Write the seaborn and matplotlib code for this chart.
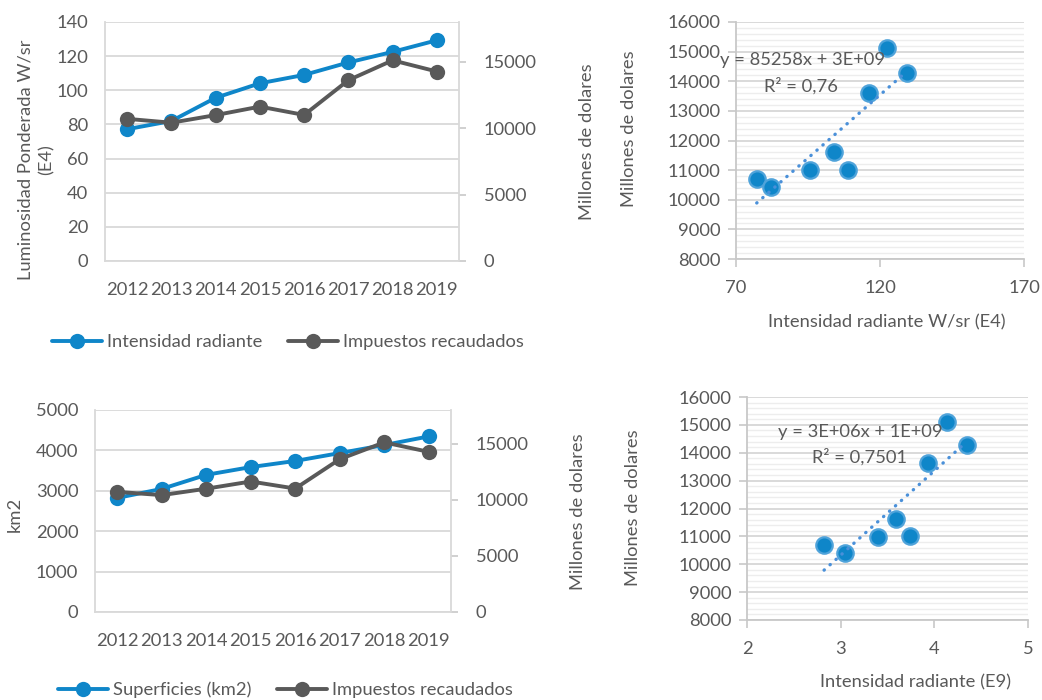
import numpy as np
import pandas as pd
import matplotlib
matplotlib.use("Agg")
import matplotlib.pyplot as plt
import seaborn as sns
from matplotlib.ticker import MultipleLocator, FixedLocator

# ---- data -------------------------------------------------------------
anios = [2012, 2013, 2014, 2015, 2016, 2017, 2018, 2019]
intensidad_e4 = [77.2, 82.0, 95.6, 104.1, 109.0, 116.3, 122.5, 129.3]
impuestos = [10707, 10415, 10988, 11628, 11000, 13617, 15113, 14270]
superficie_km2 = [2823, 3047, 3395, 3587, 3739, 3934, 4133, 4346]
intensidad_e9 = [2.823, 3.047, 3.395, 3.587, 3.739, 3.934, 4.133, 4.346]

ecuacion_sup = ["y = 85258x + 3E+09", "R² = 0,76"]
ecuacion_inf = ["y = 3E+06x + 1E+09", "R² = 0,7501"]

# ---- style ------------------------------------------------------------
sns.set_theme(style="white")
plt.rcParams["font.family"] = ["Lato", "DejaVu Sans"]
FS = 13.2
TXT = "#595959"
BLUE = "#0F86C9"
DARK = "#595959"
GRID = "#D9D9D9"
MINOR = "#EDEDED"
AXIS = "#C8C8C8"
TREND = "#4A90D9"
plt.rcParams.update({
    "text.color": TXT, "axes.labelcolor": TXT,
    "xtick.color": TXT, "ytick.color": TXT,
    "font.size": FS, "axes.labelsize": FS,
    "xtick.labelsize": FS, "ytick.labelsize": FS,
})

W, H = 1042, 700
fig = plt.figure(figsize=(W / 100, H / 100), dpi=100)


def box(l, t, r, b):
    return [l / W, 1 - b / H, (r - l) / W, (b - t) / H]


def frac(ax, px, py):
    x0, y0, w, h = ax.get_position().bounds
    return ((px / W - x0) / w, ((1 - py / H) - y0) / h)


def lineas(rect, serie, etiqueta, ylim, ystep, ylabel, ylab_px, rlab_px, leg_px):
    ax = fig.add_axes(box(*rect))
    ax2 = ax.twinx()
    sns.lineplot(x=anios, y=serie, ax=ax, color=BLUE, lw=2.8, marker="o",
                 markersize=11, markeredgecolor=BLUE, markeredgewidth=0,
                 label=etiqueta, legend=False)
    sns.lineplot(x=anios, y=impuestos, ax=ax2, color=DARK, lw=2.8, marker="o",
                 markersize=11, markeredgecolor=DARK, markeredgewidth=0,
                 label="Impuestos recaudados", legend=False)

    ax.set_xlim(anios[0] - 0.5, anios[-1] + 0.5)
    ax.set_xticks(anios)
    ax.set_xticklabels([str(a) for a in anios])
    ax.set_ylim(*ylim)
    ax.yaxis.set_major_locator(MultipleLocator(ystep))
    ax.yaxis.grid(True, color=GRID, lw=1.3)
    ax.set_axisbelow(True)
    ax.tick_params(axis="both", length=0)
    ax.tick_params(axis="y", pad=12)
    ax.tick_params(axis="x", pad=15)
    for s in ("top", "right"):
        ax.spines[s].set_visible(False)
    for s in ("left", "bottom"):
        ax.spines[s].set_color(GRID)
        ax.spines[s].set_linewidth(1.3)

    ax2.set_ylim(0, 18000)
    ax2.yaxis.set_major_locator(FixedLocator([0, 5000, 10000, 15000]))
    ax2.tick_params(axis="y", length=5, width=1.2, color=AXIS, pad=13)
    for s in ("top", "left", "bottom"):
        ax2.spines[s].set_visible(False)
    ax2.spines["right"].set_color(GRID)
    ax2.spines["right"].set_linewidth(1.3)

    ax.set_xlabel("")
    ax.set_ylabel(ylabel, va="center", ha="center", multialignment="center",
                  linespacing=1.4)
    ax.yaxis.set_label_coords(*frac(ax, *ylab_px))
    ax2.set_ylabel("Millones de dolares", va="center", ha="center")
    ax2.yaxis.set_label_coords(*frac(ax2, *rlab_px))

    handles = ax.get_lines()[:1] + ax2.get_lines()[:1]
    labels = [etiqueta, "Impuestos recaudados"]
    ax.legend(handles, labels, loc="center left", ncol=2, frameon=False,
              bbox_to_anchor=(leg_px[0] / W, 1 - leg_px[1] / H),
              bbox_transform=fig.transFigure, borderpad=0, borderaxespad=0,
              handlelength=2.7, handletextpad=0.3, columnspacing=1.4,
              fontsize=FS)
    return ax


def dispersion(rect, xs, xlim, xticks, xlabel, xlab_px, ylab_px, ecuacion, eq_px):
    ax = fig.add_axes(box(*rect))
    df = pd.DataFrame({"x": xs, "y": impuestos})
    sns.scatterplot(data=df, x="x", y="y", ax=ax, s=140, color=BLUE,
                    edgecolor="#4FA3DA", linewidth=1.6, zorder=3)
    m, c = np.polyfit(xs, impuestos, 1)
    xx = np.array([min(xs), max(xs)])
    ax.plot(xx, m * xx + c, ls=(0, (0.1, 2.3)), lw=2.4, color=TREND,
            dash_capstyle="round", zorder=4)

    ax.set_xlim(*xlim)
    ax.set_xticks(xticks)
    ax.set_ylim(8000, 16000)
    ax.yaxis.set_major_locator(MultipleLocator(1000))
    ax.yaxis.set_minor_locator(MultipleLocator(200))
    ax.yaxis.grid(True, which="major", color=GRID, lw=1.4)
    ax.yaxis.grid(True, which="minor", color=MINOR, lw=1.0)
    ax.xaxis.grid(False)
    ax.set_axisbelow(True)
    ax.tick_params(axis="both", which="major", length=6, width=1.2,
                   color=AXIS, direction="out")
    ax.tick_params(axis="both", which="minor", length=0)
    ax.tick_params(axis="y", left=True, pad=5)
    ax.tick_params(axis="x", bottom=True, pad=9)
    for s in ("top", "right"):
        ax.spines[s].set_visible(False)
    for s in ("left", "bottom"):
        ax.spines[s].set_color(AXIS)
        ax.spines[s].set_linewidth(1.3)

    ax.set_xlabel(xlabel, va="center")
    ax.xaxis.set_label_coords(*frac(ax, *xlab_px))
    ax.set_ylabel("Millones de dolares", va="center", ha="center")
    ax.yaxis.set_label_coords(*frac(ax, *ylab_px))

    for texto, (px, py) in zip(ecuacion, eq_px):
        fx, fy = frac(ax, px, py)
        ax.text(fx, fy, texto, transform=ax.transAxes, ha="center",
                va="center", fontsize=FS, color=TXT, zorder=5)
    return ax


# top row
lineas((105, 22, 459, 261), intensidad_e4, "Intensidad radiante", (0, 140), 20,
       "Luminosidad Ponderada W/sr\n(E4)", (36, 160), (587, 142), (52, 342))
dispersion((736, 22, 1024, 259), intensidad_e4, (70, 170), [70, 120, 170],
           "Intensidad radiante W/sr (E4)", (887, 322), (629, 129),
           ecuacion_sup, [(803, 60), (801, 86)])

# bottom row
lineas((95, 410, 451, 612), superficie_km2, "Superficies (km2)", (0, 5000), 1000,
       "km2", (15, 514), (578, 512), (58, 690))
dispersion((747, 397, 1028, 620), intensidad_e9, (2, 5), [2, 3, 4, 5],
           "Intensidad radiante (E9)", (916, 682), (633, 508),
           ecuacion_inf, [(860, 432), (860, 457)])

fig.savefig("out.png", dpi=100, facecolor="white")
